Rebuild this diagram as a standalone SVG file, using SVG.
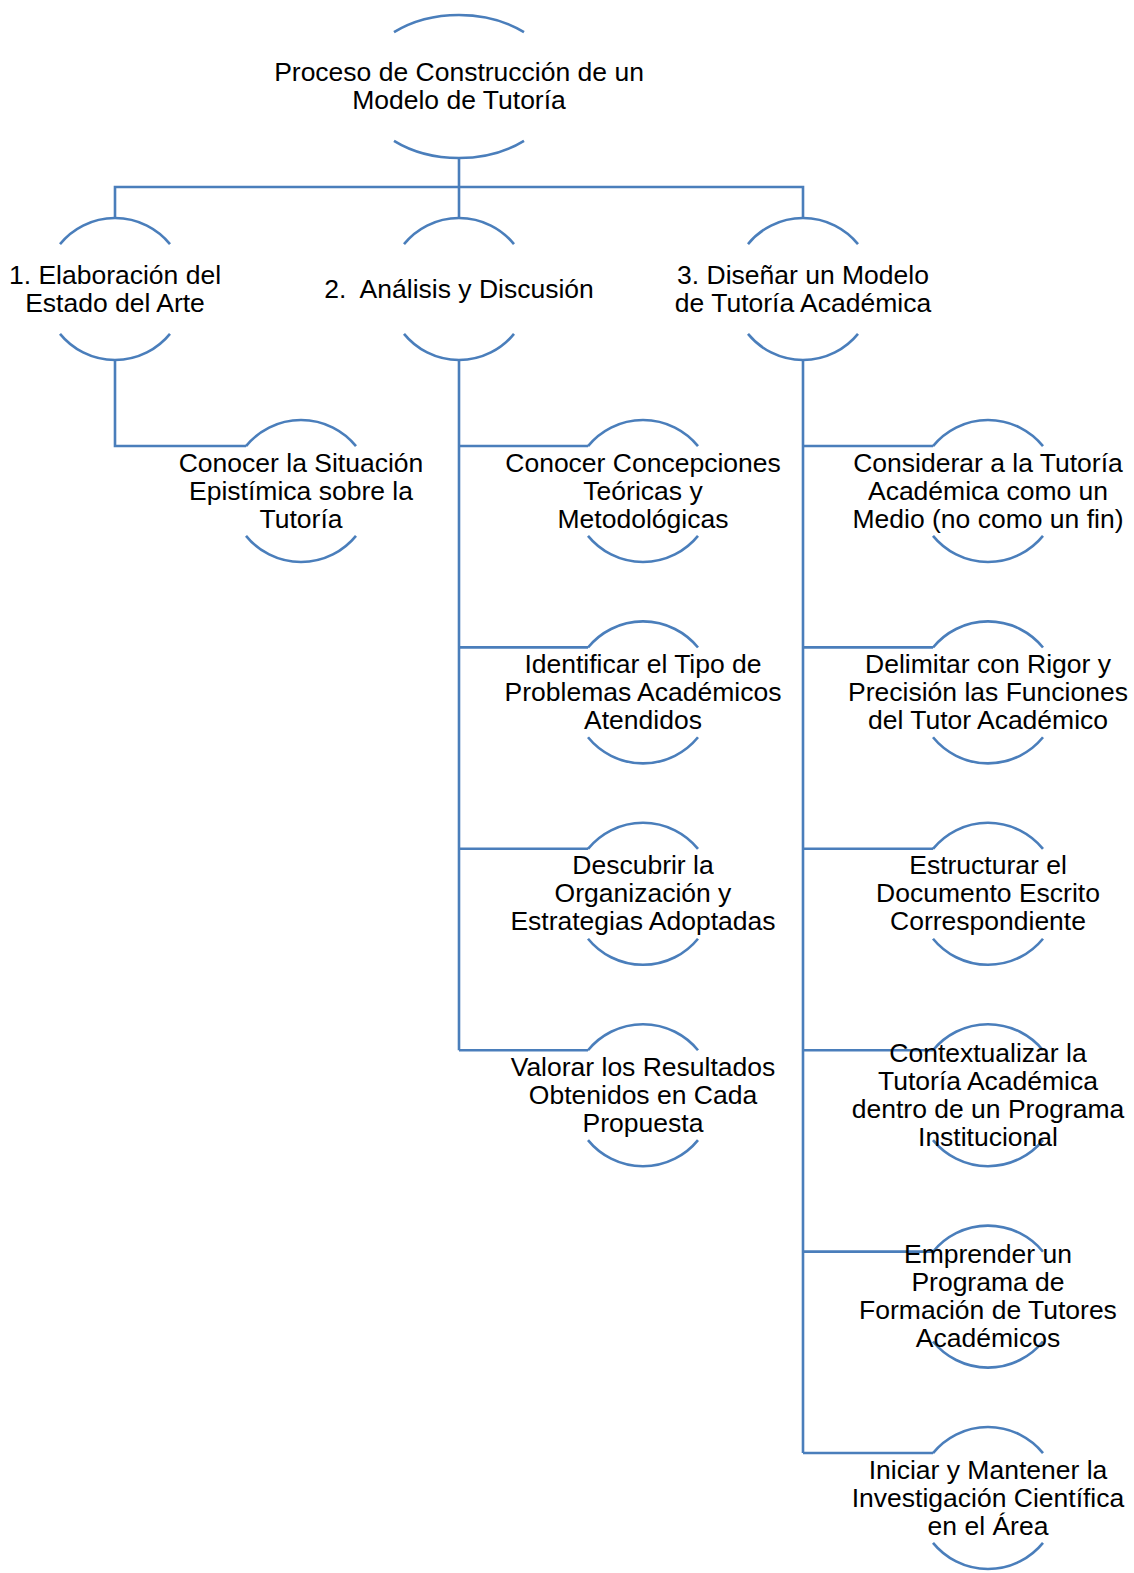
<svg xmlns="http://www.w3.org/2000/svg" width="1134" height="1573" viewBox="0 0 1134 1573">
<style>
.arc{fill:none;stroke:#4a7ebb;stroke-width:2.6}
.con{fill:none;stroke:#4a7ebb;stroke-width:2.6}
text{font-family:"Liberation Sans",Arial,sans-serif;font-size:26.5px;fill:#000;text-anchor:middle}
</style>
<rect width="1134" height="1573" fill="#fff"/>
<g id="connectors" class="con">
<path d="M459,158 V218"/>
<path d="M115,218 V187 H803 V218"/>
<path d="M115,360 V446 H246"/>
<path d="M459,360 V1050.2"/>
<path d="M459,446 H588"/>
<path d="M459,647.4 H588"/>
<path d="M459,848.8 H588"/>
<path d="M459,1050.2 H588"/>
<path d="M803,360 V1453"/>
<path d="M803,446 H933"/>
<path d="M803,647.4 H933"/>
<path d="M803,848.8 H933"/>
<path d="M803,1050.2 H933"/>
<path d="M803,1251.6 H933"/>
<path d="M803,1453 H933"/>
</g>
<g id="n0">
<path class="arc" d="M394,32.2 A100,71.5 0 0 1 524,32.2"/>
<path class="arc" d="M394,140.8 A100,71.5 0 0 0 524,140.8"/>
<text x="459" y="81">Proceso de Construcción de un</text>
<text x="459" y="109">Modelo de Tutoría</text>
</g>
<g id="n1">
<path class="arc" d="M60,244.1 A71,71 0 0 1 170,244.1"/>
<path class="arc" d="M60,333.9 A71,71 0 0 0 170,333.9"/>
<text x="115" y="283.5">1. Elaboración del</text>
<text x="115" y="311.5">Estado del Arte</text>
</g>
<g id="n2">
<path class="arc" d="M404,244.1 A71,71 0 0 1 514,244.1"/>
<path class="arc" d="M404,333.9 A71,71 0 0 0 514,333.9"/>
<text x="459" y="297.5" xml:space="preserve">2.  Análisis y Discusión</text>
</g>
<g id="n3">
<path class="arc" d="M748,244.1 A71,71 0 0 1 858,244.1"/>
<path class="arc" d="M748,333.9 A71,71 0 0 0 858,333.9"/>
<text x="803" y="283.5">3. Diseñar un Modelo</text>
<text x="803" y="311.5">de Tutoría Académica</text>
</g>
<g id="n1a">
<path class="arc" d="M246,446.1 A71,71 0 0 1 356,446.1"/>
<path class="arc" d="M246,535.9 A71,71 0 0 0 356,535.9"/>
<text x="301" y="471.5">Conocer la Situación</text>
<text x="301" y="499.5">Epistímica sobre la</text>
<text x="301" y="527.5">Tutoría</text>
</g>
<g id="n2a">
<path class="arc" d="M588,446.1 A71,71 0 0 1 698,446.1"/>
<path class="arc" d="M588,535.9 A71,71 0 0 0 698,535.9"/>
<text x="643" y="471.5">Conocer Concepciones</text>
<text x="643" y="499.5">Teóricas y</text>
<text x="643" y="527.5">Metodológicas</text>
</g>
<g id="n2b">
<path class="arc" d="M588,647.5 A71,71 0 0 1 698,647.5"/>
<path class="arc" d="M588,737.3 A71,71 0 0 0 698,737.3"/>
<text x="643" y="672.9">Identificar el Tipo de</text>
<text x="643" y="700.9">Problemas Académicos</text>
<text x="643" y="728.9">Atendidos</text>
</g>
<g id="n2c">
<path class="arc" d="M588,848.9 A71,71 0 0 1 698,848.9"/>
<path class="arc" d="M588,938.7 A71,71 0 0 0 698,938.7"/>
<text x="643" y="874.3">Descubrir la</text>
<text x="643" y="902.3">Organización y</text>
<text x="643" y="930.3">Estrategias Adoptadas</text>
</g>
<g id="n2d">
<path class="arc" d="M588,1050.3 A71,71 0 0 1 698,1050.3"/>
<path class="arc" d="M588,1140.1 A71,71 0 0 0 698,1140.1"/>
<text x="643" y="1075.7">Valorar los Resultados</text>
<text x="643" y="1103.7">Obtenidos en Cada</text>
<text x="643" y="1131.7">Propuesta</text>
</g>
<g id="n3a">
<path class="arc" d="M933,446.1 A71,71 0 0 1 1043,446.1"/>
<path class="arc" d="M933,535.9 A71,71 0 0 0 1043,535.9"/>
<text x="988" y="471.5">Considerar a la Tutoría</text>
<text x="988" y="499.5">Académica como un</text>
<text x="988" y="527.5">Medio (no como un fin)</text>
</g>
<g id="n3b">
<path class="arc" d="M933,647.5 A71,71 0 0 1 1043,647.5"/>
<path class="arc" d="M933,737.3 A71,71 0 0 0 1043,737.3"/>
<text x="988" y="672.9">Delimitar con Rigor y</text>
<text x="988" y="700.9">Precisión las Funciones</text>
<text x="988" y="728.9">del Tutor Académico</text>
</g>
<g id="n3c">
<path class="arc" d="M933,848.9 A71,71 0 0 1 1043,848.9"/>
<path class="arc" d="M933,938.7 A71,71 0 0 0 1043,938.7"/>
<text x="988" y="874.3">Estructurar el</text>
<text x="988" y="902.3">Documento Escrito</text>
<text x="988" y="930.3">Correspondiente</text>
</g>
<g id="n3d">
<path class="arc" d="M933,1050.3 A71,71 0 0 1 1043,1050.3"/>
<path class="arc" d="M933,1140.1 A71,71 0 0 0 1043,1140.1"/>
<text x="988" y="1061.7">Contextualizar la</text>
<text x="988" y="1089.7">Tutoría Académica</text>
<text x="988" y="1117.7">dentro de un Programa</text>
<text x="988" y="1145.7">Institucional</text>
</g>
<g id="n3e">
<path class="arc" d="M933,1251.7 A71,71 0 0 1 1043,1251.7"/>
<path class="arc" d="M933,1341.5 A71,71 0 0 0 1043,1341.5"/>
<text x="988" y="1263.1">Emprender un</text>
<text x="988" y="1291.1">Programa de</text>
<text x="988" y="1319.1">Formación de Tutores</text>
<text x="988" y="1347.1">Académicos</text>
</g>
<g id="n3f">
<path class="arc" d="M933,1453.1 A71,71 0 0 1 1043,1453.1"/>
<path class="arc" d="M933,1542.9 A71,71 0 0 0 1043,1542.9"/>
<text x="988" y="1478.5">Iniciar y Mantener la</text>
<text x="988" y="1506.5">Investigación Científica</text>
<text x="988" y="1534.5">en el Área</text>
</g>
</svg>
